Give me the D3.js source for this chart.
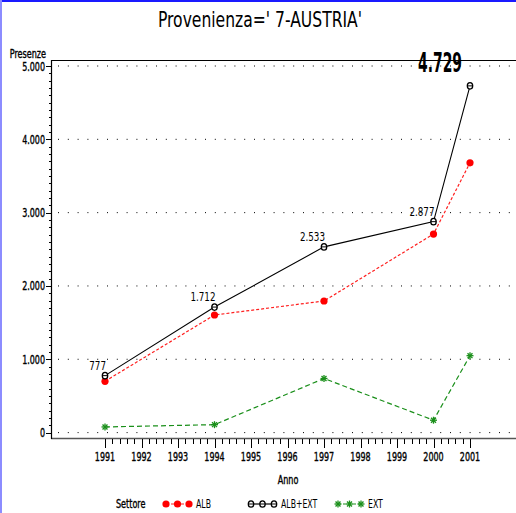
<!DOCTYPE html>
<html>
<head>
<meta charset="utf-8">
<script src="https://cdn.jsdelivr.net/npm/d3@7"></script>
<style>
  body { margin: 0; background: #fff; }
  text { font-family: 'DejaVu Sans Condensed', 'Liberation Sans', sans-serif; fill: #000; }
  .semi { stroke: #000; stroke-width: 0.35px; }
</style>
</head>
<body>
<script>
// dati
var years = [1991, 1994, 1997, 2000, 2001];
var alb = [700, 1604, 1795, 2708, 3680];
var albExt = [777, 1712, 2533, 2877, 4729];
var ext = [77, 108, 738, 169, 1049];
var xTicks = [1991, 1992, 1993, 1994, 1995, 1996, 1997, 1998, 1999, 2000, 2001];
var yTicks = [0, 1000, 2000, 3000, 4000, 5000];
var seriesNames = ['ALB', 'ALB+EXT', 'EXT'];

var width = 516, height = 513;
var loc = d3.formatLocale({ decimal: ',', thousands: '.', grouping: [3], currency: ['', ''] });
var fmt = loc.format(',d');

// stringe il testo in orizzontale (font stretto come nell'originale)
function squeeze(sel, f) {
    sel.each(function () {
        var w = this.getComputedTextLength();
        d3.select(this).attr('textLength', w * f).attr('lengthAdjust', 'spacingAndGlyphs');
    });
}

var svg = d3.select('body').append('svg')
    .attr('width', width)
    .attr('height', height);

// bordo blu
svg.append('rect').attr('x', 0).attr('y', 0).attr('width', width).attr('height', 2).attr('fill', '#1a1aff');
svg.append('rect').attr('x', 0).attr('y', 0).attr('width', 2).attr('height', height).attr('fill', '#8c8cff');

var x = d3.scaleLinear().domain([1991, 2001]).range([105, 470]);
var y = d3.scaleLinear().domain([0, 5000]).range([432.6, 66]);

// titolo
svg.append('text')
    .attr('x', 260).attr('y', 27)
    .attr('text-anchor', 'middle')
    .attr('font-size', 21)
    .attr('font-weight', 300)
    .attr('textLength', 204)
    .attr('lengthAdjust', 'spacingAndGlyphs')
    .text("Provenienza=' 7-AUSTRIA'");

// griglia puntinata
svg.selectAll('.grid')
    .data(yTicks)
    .enter().append('line')
    .attr('class', 'grid')
    .attr('x1', 58).attr('x2', width)
    .attr('y1', function (d) { return y(d); })
    .attr('y2', function (d) { return y(d); })
    .attr('stroke', '#000')
    .attr('stroke-width', 1)
    .attr('stroke-dasharray', '1,8.8');

// cornice
svg.append('line').attr('x1', 51).attr('x2', width).attr('y1', 60.5).attr('y2', 60.5).attr('stroke', '#000').attr('stroke-width', 1.2);
svg.append('line').attr('x1', 51).attr('x2', width).attr('y1', 438.5).attr('y2', 438.5).attr('stroke', '#555').attr('stroke-width', 1.3);
svg.append('line').attr('x1', 51.5).attr('x2', 51.5).attr('y1', 60).attr('y2', 439).attr('stroke', '#000').attr('stroke-width', 1.2);

// asse y
var yMinor = d3.range(0, 5001, 100);
svg.selectAll('.ymin')
    .data(yMinor)
    .enter().append('line')
    .attr('class', 'ymin')
    .attr('x1', function (d) { return d % 1000 === 0 ? 46 : 49; })
    .attr('x2', 51)
    .attr('y1', function (d) { return Math.round(y(d)) + 0.5; })
    .attr('y2', function (d) { return Math.round(y(d)) + 0.5; })
    .attr('stroke', '#000');

svg.selectAll('.ylab')
    .data(yTicks)
    .enter().append('text')
    .attr('class', 'ylab semi')
    .attr('x', 45)
    .attr('y', function (d) { return y(d) + 4.5; })
    .attr('text-anchor', 'end')
    .attr('font-size', 12)
    .text(function (d) { return fmt(d); })
    .call(squeeze, 0.74);

svg.append('text')
    .attr('class', 'semi')
    .attr('x', 46).attr('y', 58)
    .attr('text-anchor', 'end')
    .attr('font-size', 11.5)
    .text('Presenze')
    .call(squeeze, 0.78);

// asse x
var xMinor = d3.range(0, 51).map(function (i) { return 1991 + i * 0.2; });
svg.selectAll('.xmin')
    .data(xMinor)
    .enter().append('line')
    .attr('class', 'xmin')
    .attr('x1', function (d) { return Math.round(x(d)) + 0.5; })
    .attr('x2', function (d) { return Math.round(x(d)) + 0.5; })
    .attr('y1', 439)
    .attr('y2', function (d, i) { return i % 5 === 0 ? 448 : 444; })
    .attr('stroke', '#000');

svg.selectAll('.xlab')
    .data(xTicks)
    .enter().append('text')
    .attr('class', 'xlab semi')
    .attr('x', function (d) { return x(d); })
    .attr('y', 461)
    .attr('text-anchor', 'middle')
    .attr('font-size', 12)
    .text(function (d) { return d; })
    .call(squeeze, 0.74);

svg.append('text')
    .attr('class', 'semi')
    .attr('x', 288).attr('y', 484)
    .attr('text-anchor', 'middle')
    .attr('font-size', 11.5)
    .text('Anno')
    .call(squeeze, 0.78);

// linee
var line = function (vals) {
    return d3.line()
        .x(function (d, i) { return x(years[i]); })
        .y(function (d) { return y(d); })(vals);
};

svg.append('path').attr('d', line(alb)).attr('fill', 'none')
    .attr('stroke', '#ff2020').attr('stroke-width', 1.2).attr('stroke-dasharray', '3,2');
svg.append('path').attr('d', line(albExt)).attr('fill', 'none')
    .attr('stroke', '#000').attr('stroke-width', 1.1);
svg.append('path').attr('d', line(ext)).attr('fill', 'none')
    .attr('stroke', '#1a8f1a').attr('stroke-width', 1.2).attr('stroke-dasharray', '5,3');

// simboli
function dot(g, cx, cy) {
    g.append('circle').attr('cx', cx).attr('cy', cy).attr('r', 3.6).attr('fill', '#ff0000');
}
function theta(g, cx, cy) {
    g.append('ellipse').attr('cx', cx).attr('cy', cy).attr('rx', 2.7).attr('ry', 3.2)
        .attr('fill', '#fff').attr('stroke', '#000').attr('stroke-width', 1.3);
    g.append('line').attr('x1', cx - 2.7).attr('x2', cx + 2.7).attr('y1', cy).attr('y2', cy)
        .attr('stroke', '#000').attr('stroke-width', 1);
}
function star(g, cx, cy) {
    var r = 3.5;
    [0, 45, 90, 135].forEach(function (a) {
        var t = a * Math.PI / 180;
        g.append('line')
            .attr('x1', cx - r * Math.cos(t)).attr('y1', cy - r * Math.sin(t))
            .attr('x2', cx + r * Math.cos(t)).attr('y2', cy + r * Math.sin(t))
            .attr('stroke', '#1a8f1a').attr('stroke-width', 1.3);
    });
}

var marks = svg.append('g');
years.forEach(function (yr, i) {
    dot(marks, x(yr), y(alb[i]));
    theta(marks, x(yr), y(albExt[i]));
    star(marks, x(yr), y(ext[i]));
});

// etichette valori ALB+EXT
var nLab = albExt.length;
svg.selectAll('.vlab')
    .data(albExt.slice(0, nLab - 1))
    .enter().append('text')
    .attr('class', 'vlab')
    .attr('x', function (d, i) { return x(years[i]) + 1; })
    .attr('y', function (d) { return y(d) - 6; })
    .attr('text-anchor', 'end')
    .attr('font-size', 13)
    .text(function (d) { return fmt(d); })
    .call(squeeze, 0.75);

svg.append('text')
    .attr('x', 440).attr('y', 72)
    .attr('text-anchor', 'middle')
    .attr('font-size', 26)
    .attr('font-weight', 'bold')
    .attr('textLength', 44)
    .attr('lengthAdjust', 'spacingAndGlyphs')
    .text(fmt(albExt[nLab - 1]));

// legenda
var lg = svg.append('g');
lg.append('text').attr('class', 'semi').attr('x', 116).attr('y', 508).attr('font-size', 11.5)
    .text('Settore').call(squeeze, 0.78);
var legX = [166, 251, 338];
var legCol = ['#ff2020', '#000', '#1a8f1a'];
var legDash = ['3,2', null, '3,2'];
seriesNames.forEach(function (name, k) {
    var lx = legX[k];
    lg.append('line').attr('x1', lx).attr('x2', lx + 23).attr('y1', 504).attr('y2', 504)
        .attr('stroke', legCol[k]).attr('stroke-width', 1.2).attr('stroke-dasharray', legDash[k]);
    [0, 11.5, 23].forEach(function (o) {
        if (k === 0) dot(lg, lx + o, 504);
        else if (k === 1) theta(lg, lx + o, 504);
        else star(lg, lx + o, 504);
    });
    lg.append('text').attr('x', lx + 30).attr('y', 508).attr('font-size', 11.5)
        .text(name).call(squeeze, 0.75);
});
</script>
</body>
</html>
